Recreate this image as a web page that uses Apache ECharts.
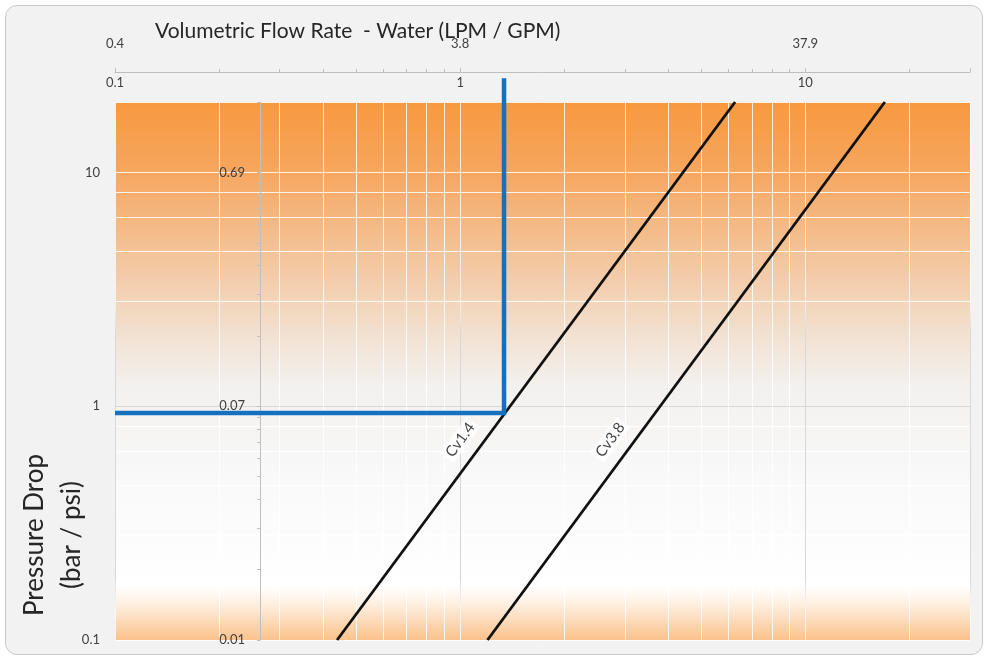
<!DOCTYPE html>
<html><head><meta charset="utf-8">
<script src="https://cdn.jsdelivr.net/npm/echarts@6/dist/echarts.min.js"></script>
<style>
html,body{margin:0;padding:0;background:#fff;}
#frame{position:absolute;left:5px;top:5px;width:976px;height:648px;border:1px solid #c9c9c9;border-radius:12px;background:#f2f2f2;}
#chart{position:absolute;left:0;top:0;width:993px;height:659px;}
</style></head><body>
<div id="frame"></div><div id="chart"></div>
<script>
// ---- data ----
const gpmTicks = [0.1, 1, 10];
const gpmLabels = ['0.1', '1', '10'];
const lpmLabels = ['0.4', '3.8', '37.9'];
const psiTicks = [0.1, 1, 10];
const psiLabels = ['0.1', '1', '10'];
const barLabels = ['0.01', '0.07', '0.69'];
const cv14 = [[0.44, 0.1], [6.26, 20]];
const cv38 = [[1.2, 0.1], [17, 20]];
const selection = [[0.1, 0.935], [1.34, 0.935], [1.34, 25.3]];
const curveLabels = [{name: 'Cv1.4', value: [1.0, 0.717]}, {name: 'Cv3.8', value: [2.72, 0.717]}];

const FONT = 'Lato, "Open Sans", sans-serif';
function lookup(ticks, labels) {
  return function (v) {
    for (let i = 0; i < ticks.length; i++) {
      if (Math.abs(Math.log10(v) - Math.log10(ticks[i])) < 1e-6) return labels[i];
    }
    return '';
  };
}
const W = 'rgba(255,255,255,0.85)';
const vGrad = {type: 'linear', x: 0, y: 0, x2: 0, y2: 1, colorStops: [
  {offset: 0, color: W}, {offset: 0.36, color: 'rgba(255,255,255,0.7)'},
  {offset: 0.43, color: '#d8d8d8'}, {offset: 0.88, color: '#d8d8d8'},
  {offset: 0.95, color: 'rgba(255,255,255,0.7)'}, {offset: 1, color: W}]};
const plotBg = {type: 'linear', x: 0, y: 0, x2: 0, y2: 1, colorStops: [
  {offset: 0, color: '#F8993F'}, {offset: 0.12, color: '#F6A55C'},
  {offset: 0.3, color: '#F3C7A0'}, {offset: 0.45, color: '#F2E4D7'},
  {offset: 0.53, color: '#F3F1EF'}, {offset: 0.7, color: '#F9F9F9'},
  {offset: 0.9, color: '#FFFFFF'}, {offset: 0.935, color: '#FEEEDF'},
  {offset: 1, color: '#FBC28C'}]};
const axisGray = '#bfbfbf';
const LBL = {fontSize: 13, color: '#404040', fontFamily: FONT};

const chart = echarts.init(document.getElementById('chart'), null, {renderer: 'canvas'});
chart.setOption({
  animation: false,
  backgroundColor: 'transparent',
  title: {text: 'Volumetric Flow Rate  - Water (LPM / GPM)', left: 150, top: 16,
    textStyle: {fontFamily: FONT, fontSize: 21, fontWeight: 'normal', color: '#262626'}},
  grid: {left: 115, right: 23, top: 102, bottom: 19, show: true, backgroundColor: plotBg, borderWidth: 0},
  xAxis: [
    {type: 'log', min: 0.1, max: 30, position: 'top', offset: 30,
      axisLine: {show: true, lineStyle: {color: axisGray}},
      axisTick: {show: true, length: 4, lineStyle: {color: axisGray}},
      minorTick: {show: true, splitNumber: 9, length: 3, lineStyle: {color: axisGray}},
      axisLabel: Object.assign({inside: true, margin: 4, formatter: lookup(gpmTicks, gpmLabels)}, LBL),
      splitLine: {show: true, lineStyle: {color: vGrad, width: 1}},
      minorSplitLine: {show: true, lineStyle: {color: W, width: 1}}},
    {type: 'log', min: 0.1, max: 30, position: 'top', offset: 30,
      axisLine: {show: false}, axisTick: {show: false}, splitLine: {show: false},
      axisLabel: Object.assign({margin: 22, formatter: lookup(gpmTicks, lpmLabels)}, LBL)}
  ],
  yAxis: [
    {type: 'log', min: 0.1, max: 20, position: 'left',
      axisLine: {show: false}, axisTick: {show: false},
      axisLabel: Object.assign({margin: 15, formatter: lookup(psiTicks, psiLabels)}, LBL),
      splitLine: {show: true, lineStyle: {color: [W, '#d8d8d8', W, W], width: 1}},
      minorSplitLine: {show: true, lineStyle: {color: W, width: 1}}},
    {type: 'log', min: 0.1, max: 20, position: 'left', offset: -145,
      axisLine: {show: true, lineStyle: {color: axisGray}},
      axisTick: {show: true, length: 3, lineStyle: {color: axisGray}},
      minorTick: {show: true, splitNumber: 9, length: 3, lineStyle: {color: axisGray}},
      splitLine: {show: false},
      axisLabel: Object.assign({margin: 15, formatter: lookup(psiTicks, barLabels)}, LBL)}
  ],
  series: [
    {type: 'line', name: 'Cv1.4', data: cv14, symbol: 'none', lineStyle: {color: '#111', width: 2.8}, z: 3},
    {type: 'line', name: 'Cv3.8', data: cv38, symbol: 'none', lineStyle: {color: '#111', width: 2.8}, z: 3},
    {type: 'line', name: 'selection', data: selection, symbol: 'none', clip: false, lineStyle: {color: '#1570BE', width: 4.5, join: 'miter'}, z: 4},
    {type: 'scatter', data: curveLabels, symbolSize: 1, itemStyle: {color: 'transparent'}, z: 5,
      label: {show: true, position: 'inside', formatter: p => p.name, rotate: 53.6, fontSize: 15, fontFamily: FONT,
        color: '#111', backgroundColor: '#ffffff', padding: [1, 3]}}
  ],
  graphic: [{type: 'text', x: 53, y: 535, rotation: Math.PI / 2,
    style: {text: 'Pressure Drop\n(bar / psi)', fontSize: 26, fontFamily: FONT, fill: '#262626', align: 'center', verticalAlign: 'middle', lineHeight: 37}}]
});
</script></body></html>
